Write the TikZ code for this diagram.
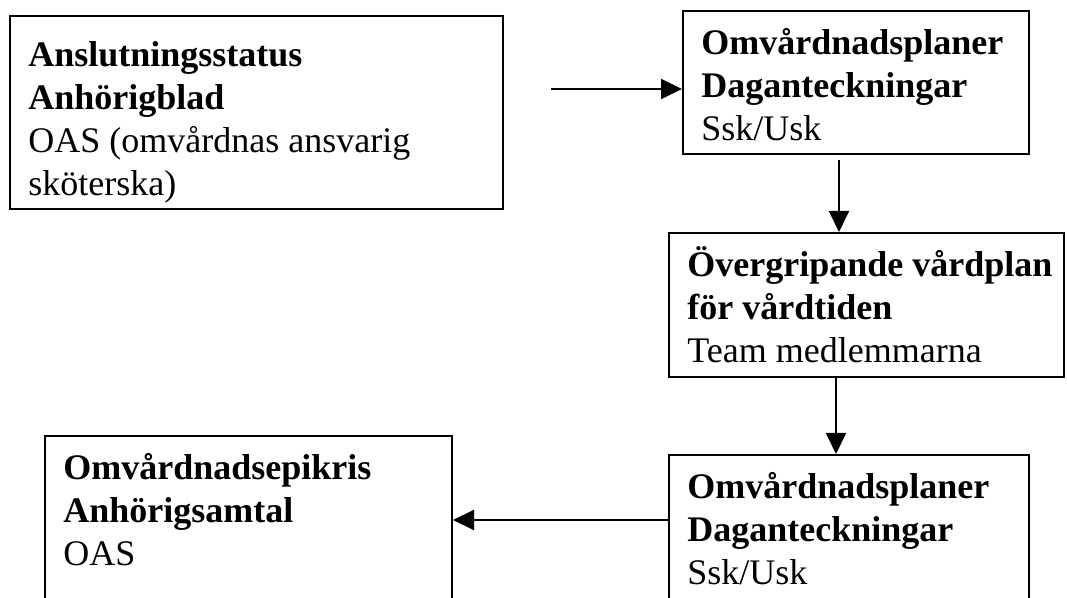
\documentclass[tikz,border=0pt]{standalone}
\usepackage{fontspec}
\setmainfont{Liberation Serif}
\usetikzlibrary{arrows.meta}

\tikzset{
  block/.style={draw, line width=1pt, anchor=north west, inner sep=0pt},
  blocktext/.style={anchor=north west, inner xsep=9.5pt, inner ysep=7pt, text width=#1,
    align=flush left, font=\fontsize{18}{21.5}\selectfont, execute at begin node=\strut},
  arr/.style={-{Triangle[length=10.5pt,width=10pt]}, line width=1pt},
}

\begin{document}
\begin{tikzpicture}[x=0.5pt,y=-0.5pt]
  \useasboundingbox (0,0) rectangle (1067,598);
  \clip (0,0) rectangle (1067,598);

  % boxes
  \node[block, minimum width=246.5pt, minimum height=96.5pt,
    label={[blocktext=225pt, yshift=-3.5pt]north west:{\textbf{Anslutningsstatus}\\\textbf{Anhörigblad}\\OAS (omvårdnas ansvarig\\sköterska)}}]
    (anslut) at (9,15) {};
  \node[block, minimum width=173pt, minimum height=71.5pt,
    label={[blocktext=160pt]north west:{\textbf{Omvårdnadsplaner}\\\textbf{Daganteckningar}\\Ssk/Usk}}]
    (plan1) at (682,10) {};
  \node[block, minimum width=197.5pt, minimum height=72pt,
    label={[blocktext=185pt]north west:{\textbf{Övergripande vårdplan}\\\textbf{för vårdtiden}\\Team medlemmarna}}]
    (vard) at (668,232) {};
  \node[block, minimum width=180pt, minimum height=85pt,
    label={[blocktext=165pt]north west:{\textbf{Omvårdnadsplaner}\\\textbf{Daganteckningar}\\Ssk/Usk}}]
    (plan2) at (668,454) {};
  \node[block, minimum width=203.5pt, minimum height=95pt,
    label={[blocktext=190pt]north west:{\textbf{Omvårdnadsepikris}\\\textbf{Anhörigsamtal}\\OAS}}]
    (epikris) at (44,435) {};

  % arrows
  \coordinate (ab) at (551,89);
  \draw[arr] (ab) -- (ab -| plan1.west);
  \coordinate (bc) at (839,160);
  \draw[arr] (bc) -- (bc |- vard.north);
  \coordinate (cd) at (836,0);
  \draw[arr] (cd |- vard.south) -- (cd |- plan2.north);
  \coordinate (de) at (0,520);
  \draw[arr] (de -| plan2.west) -- (de -| epikris.east);
\end{tikzpicture}
\end{document}
